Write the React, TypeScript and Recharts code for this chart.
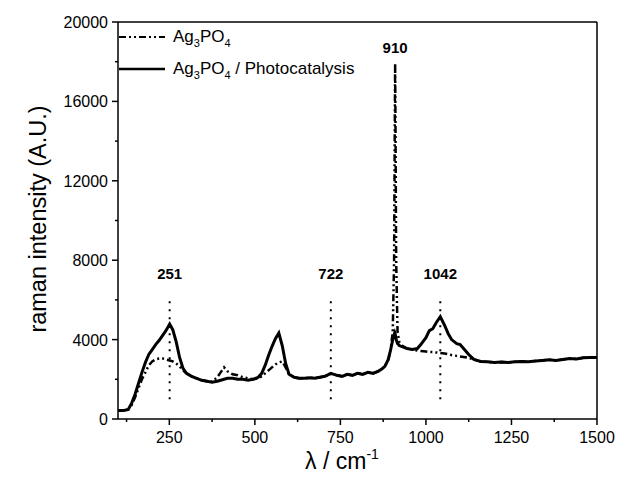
import React from 'react';
import { LineChart, Line, XAxis, YAxis, ReferenceLine, ReferenceDot, Legend } from 'recharts';

const shift = [100, 110, 120, 130, 140, 150, 160, 170, 180, 190, 200, 210, 220, 230, 240, 251, 260, 270, 280, 290, 300, 315, 330, 345, 360, 375, 390, 400, 410, 420, 435, 450, 465, 480, 495, 510, 520, 530, 540, 550, 560, 570, 580, 590, 600, 615, 630, 645, 660, 675, 690, 705, 722, 740, 755, 770, 785, 800, 815, 830, 845, 860, 870, 880, 890, 897, 903, 907, 909, 910, 911, 913, 917, 922, 930, 945, 960, 975, 985, 1000, 1010, 1020, 1030, 1042, 1055, 1065, 1075, 1090, 1100, 1110, 1125, 1140, 1160, 1180, 1200, 1220, 1240, 1260, 1280, 1300, 1320, 1340, 1360, 1380, 1400, 1420, 1440, 1460, 1480, 1500];

const ag3po4 = [430, 430, 440, 480, 700, 1100, 1550, 2000, 2350, 2700, 2900, 3000, 3050, 3050, 3000, 2950, 2900, 2800, 2650, 2450, 2300, 2150, 2050, 1950, 1900, 1880, 2100, 2350, 2600, 2400, 2250, 2200, 2100, 2050, 2000, 2050, 2150, 2300, 2450, 2600, 2750, 2850, 2900, 2600, 2250, 2100, 2050, 2050, 2080, 2050, 2100, 2150, 2300, 2200, 2150, 2250, 2200, 2300, 2250, 2350, 2300, 2400, 2500, 2650, 3000, 3500, 4400, 8000, 15000, 17900, 15000, 8000, 4400, 3900, 3700, 3550, 3500, 3450, 3420, 3400, 3380, 3370, 3350, 3330, 3300, 3260, 3220, 3180, 3150, 3120, 3080, 3000, 2900, 2880, 2850, 2870, 2850, 2880, 2900, 2880, 2920, 2950, 2980, 2950, 3000, 3050, 3020, 3080, 3100, 3100];

const ag3po4Photo = [430, 430, 440, 480, 800, 1250, 1800, 2350, 2850, 3250, 3500, 3750, 3950, 4200, 4450, 4780, 4500, 3900, 3100, 2550, 2300, 2150, 2050, 1950, 1900, 1850, 1900, 1950, 2000, 2050, 2050, 2000, 2000, 1950, 2000, 2100, 2300, 2700, 3200, 3650, 4050, 4330, 3700, 2800, 2250, 2100, 2050, 2050, 2080, 2050, 2100, 2150, 2300, 2200, 2150, 2250, 2200, 2300, 2250, 2350, 2300, 2400, 2500, 2650, 3000, 3500, 4000, 4250, 4350, 4300, 4200, 4000, 3800, 3700, 3650, 3550, 3500, 3550, 3750, 4100, 4450, 4550, 4850, 5150, 4700, 4300, 4000, 3800, 3750, 3550, 3250, 3000, 2900, 2880, 2850, 2870, 2850, 2880, 2900, 2880, 2920, 2950, 2980, 2950, 3000, 3050, 3020, 3080, 3100, 3100];

const xTicks = [125, 250, 375, 500, 625, 750, 875, 1000, 1125, 1250, 1375, 1500];
const yTicks = [0, 2000, 4000, 6000, 8000, 10000, 12000, 14000, 16000, 18000, 20000];
const dottedPeaks = [251, 722, 1042];
const peakLabels = [
  { x: 251, y: 7300, text: '251' },
  { x: 722, y: 7300, text: '722' },
  { x: 1042, y: 7300, text: '1042' },
  { x: 910, y: 18700, text: '910' },
];
const seriesNames = ['Ag3PO4', 'Ag3PO4 / Photocatalysis'];

const data = shift.map((x, i) => ({ x, a: ag3po4[i], p: ag3po4Photo[i] }));

const FONT = '"Liberation Sans", Arial, sans-serif';
const DASH = '7 3 2 3 2 3';

const XTick = (props: any) => {
  const { x, y, payload } = props;
  const major = payload.value % 250 === 0;
  return (
    <g>
      <line x1={x} x2={x} y1={y} y2={y + (major ? 6 : 3)} stroke="#000" strokeWidth={1.5} />
      {major && (
        <text x={x} y={y + 24} textAnchor="middle" fontSize={16} fill="#000" fontFamily={FONT}>
          {payload.value}
        </text>
      )}
    </g>
  );
};

const YTick = (props: any) => {
  const { x, y, payload } = props;
  const major = payload.value % 4000 === 0;
  return (
    <g>
      <line x1={x} x2={x - (major ? 6 : 3)} y1={y} y2={y} stroke="#000" strokeWidth={1.5} />
      {major && (
        <text x={x - 10} y={y + 6} textAnchor="end" fontSize={16} fill="#000" fontFamily={FONT}>
          {payload.value}
        </text>
      )}
    </g>
  );
};

const Sub = ({ children }: any) => (
  <span style={{ fontSize: 11, position: 'relative', top: 5 }}>{children}</span>
);

const LegendContent = () => (
  <div style={{ fontFamily: FONT, fontSize: 17, color: '#000' }}>
    <div style={{ display: 'flex', alignItems: 'center', height: 32 }}>
      <svg width={48} height={10}>
        <line x1={0} y1={5} x2={46} y2={5} stroke="#000" strokeWidth={2} strokeDasharray={DASH} />
      </svg>
      <span style={{ marginLeft: 6, whiteSpace: 'nowrap' }}>
        Ag<Sub>3</Sub>PO<Sub>4</Sub>
      </span>
    </div>
    <div style={{ display: 'flex', alignItems: 'center', height: 32 }}>
      <svg width={48} height={10}>
        <line x1={0} y1={5} x2={46} y2={5} stroke="#000" strokeWidth={2.5} />
      </svg>
      <span style={{ marginLeft: 6, whiteSpace: 'nowrap' }}>
        Ag<Sub>3</Sub>PO<Sub>4</Sub> / Photocatalysis
      </span>
    </div>
  </div>
);

export default function App() {
  return (
    <div style={{ position: 'absolute', left: 0, top: 0, width: 633, height: 479, background: '#fff' }}>
      <LineChart width={633} height={479} data={data} margin={{ top: 22, right: 36, bottom: 0, left: 58 }}>
        <XAxis
          dataKey="x"
          type="number"
          domain={[100, 1500]}
          ticks={xTicks}
          interval={0}
          tick={<XTick />}
          tickLine={false}
          tickSize={0}
          tickMargin={0}
          height={60}
          axisLine={{ stroke: '#000', strokeWidth: 1.5 }}
          allowDataOverflow
          label={() => (
            <text x={342} y={469} textAnchor="middle" fontSize={23} fill="#000" fontFamily={FONT}>
              λ / cm
              <tspan fontSize={14} dy={-10}>-1</tspan>
            </text>
          )}
        />
        <YAxis
          type="number"
          domain={[0, 20000]}
          ticks={yTicks}
          interval={0}
          tick={<YTick />}
          tickLine={false}
          tickSize={0}
          tickMargin={0}
          width={60}
          axisLine={{ stroke: '#000', strokeWidth: 1.5 }}
          allowDataOverflow
          label={() => (
            <text
              x={38}
              y={219}
              textAnchor="middle"
              fontSize={23.5}
              fill="#000"
              fontFamily={FONT}
              transform="rotate(-90, 38, 219)"
              dominantBaseline="central"
            >
              raman intensity (A.U.)
            </text>
          )}
        />
        <ReferenceLine y={20000} stroke="#000" strokeWidth={1.5} />
        <ReferenceLine x={1500} stroke="#000" strokeWidth={1.5} />
        {dottedPeaks.map((p) => (
          <ReferenceLine
            key={p}
            segment={[{ x: p, y: 1000 }, { x: p, y: 6000 }]}
            stroke="#000"
            strokeWidth={2}
            strokeDasharray="2 6"
          />
        ))}
        {peakLabels.map((l) => (
          <ReferenceDot
            key={l.text}
            x={l.x}
            y={l.y}
            r={1}
            fill="none"
            stroke="none"
            label={{ value: l.text, position: 'center', fontSize: 15, fontWeight: 'bold', fill: '#000', fontFamily: FONT }}
          />
        ))}
        <Legend
          layout="vertical"
          align="center"
          verticalAlign="middle"
          content={<LegendContent />}
          wrapperStyle={{ position: 'absolute', left: 119, top: 21, width: 'auto', height: 'auto' }}
        />
        <Line
          name={seriesNames[0]}
          dataKey="a"
          type="linear"
          stroke="#000"
          strokeWidth={2.5}
          strokeDasharray={DASH}
          dot={false}
          isAnimationActive={false}
        />
        <Line
          name={seriesNames[1]}
          dataKey="p"
          type="linear"
          stroke="#000"
          strokeWidth={3}
          dot={false}
          isAnimationActive={false}
        />
      </LineChart>
    </div>
  );
}
